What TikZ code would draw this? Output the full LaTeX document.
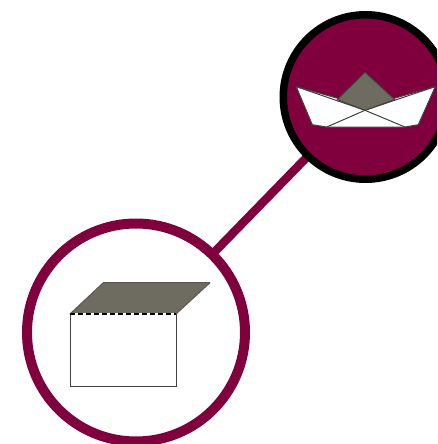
\documentclass[tikz,border=0pt]{standalone}
\definecolor{wine}{HTML}{7F003C}
\definecolor{taupe}{HTML}{6E6C60}
\tikzset{
  link/.style={draw=wine,line width=8.5pt},
  disc/.style={circle,outer sep=0pt,minimum size=164.5pt,inner sep=0pt,draw=black,line width=7.5pt,fill=wine},
  ring/.style={circle,outer sep=0pt,minimum size=218pt,inner sep=0pt,draw=wine,line width=10pt,fill=white},
  fold/.style={draw=black!75,line width=1pt,line join=round},
}
\begin{document}
\begin{tikzpicture}[x=1pt,y=-1pt]
\useasboundingbox (0,0) rectangle (437,444);
\begin{scope}
\clip (0,0) rectangle (437,444);
\coordinate (boatc) at (365.5,97);
\coordinate (boxc) at (136,332.5);
\draw[link] (boxc) -- (boatc);
\node[disc] (boat) at (boatc) {};
\node[ring] (box) at (boxc) {};
% boat
\filldraw[fill=white,fold] (296.2,86.6) -- (337.7,98.3) -- (394.3,98.3) -- (435.3,86.6) -- (418.3,124.7) -- (405,127) -- (326.7,127) -- (312.3,124.7) -- cycle;
\draw[fold] (296.2,86.6) -- (365,110.3) -- (435.3,86.6);
\draw[fold] (326.7,127) -- (365,110.3) -- (405,127);
\filldraw[fill=taupe,fold] (365,72.2) -- (394.8,99.6) -- (365,110.3) -- (337.2,99.6) -- cycle;
% box
\draw[fill=white,draw=black!75,line width=1pt] (70,314) rectangle (176,386);
\filldraw[fill=taupe,draw=black!65,line width=1pt,line join=round] (70,314) -- (103.3,282.7) -- (210,282.7) -- (176,314) -- cycle;
\draw[white,line width=1.1pt] (70,314) -- (176,314);
\draw[black,dash pattern=on 5pt off 3pt,line width=1.1pt] (70,314) -- (176,314);
\end{scope}
\end{tikzpicture}
\end{document}
